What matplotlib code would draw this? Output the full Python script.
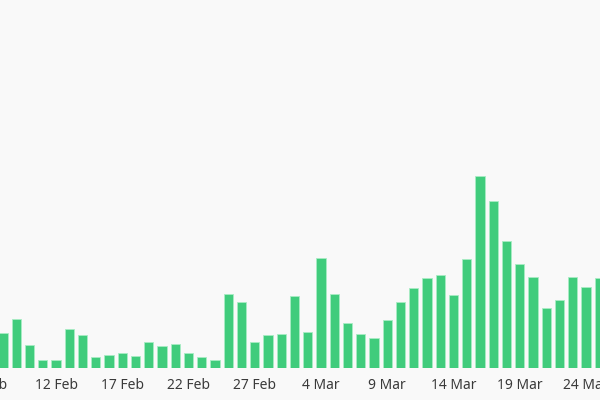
import matplotlib
matplotlib.use('Agg')
import matplotlib.pyplot as plt
import matplotlib.dates as mdates
import numpy as np
import pandas as pd

# daily counts, 8 Feb - 25 Mar
dates = pd.date_range('2021-02-08', '2021-03-25', freq='D')
counts = [35, 49, 23, 8, 8, 39, 33, 11, 13, 15,
          12, 26, 22, 24, 15, 11, 8, 74, 66, 26,
          33, 34, 72, 36, 110, 74, 45, 34, 30, 48,
          66, 80, 90, 93, 73, 109, 192, 167, 127, 104,
          91, 60, 68, 91, 81, 90]
tick_dates = pd.date_range('2021-02-07', '2021-03-24', freq='5D')
tick_labels = [d.strftime('%-d %b') for d in tick_dates]

bg = '#f9f9f9'
fig = plt.figure(figsize=(6, 4), dpi=100, facecolor=bg)
ax = fig.add_axes([0, 32 / 400, 1, 368 / 400], facecolor=bg)

x = mdates.date2num(dates)
ax.bar(x, counts, width=0.7, color='#40cc7c', edgecolor='#a8ecc4', linewidth=0.6)

ax.set_xlim(x[0] - 3 / 13.25, x[0] + 597 / 13.25)
ax.set_ylim(0, 368)
ax.set_xticks([])
ax.set_yticks([])
for s in ax.spines.values():
    s.set_visible(False)

# labels as plain texts so the one for 7 Feb (left of the view) still shows
for d, lab in zip(mdates.date2num(tick_dates), tick_labels):
    ax.annotate(lab, (d, 0), xycoords=('data', 'axes fraction'),
                xytext=(0, -7), textcoords='offset points',
                ha='center', va='top', fontsize=10, color='#3a3a3a',
                family=['Noto Sans', 'DejaVu Sans'], annotation_clip=False)

fig.savefig('out.png', dpi=100, facecolor=bg)
